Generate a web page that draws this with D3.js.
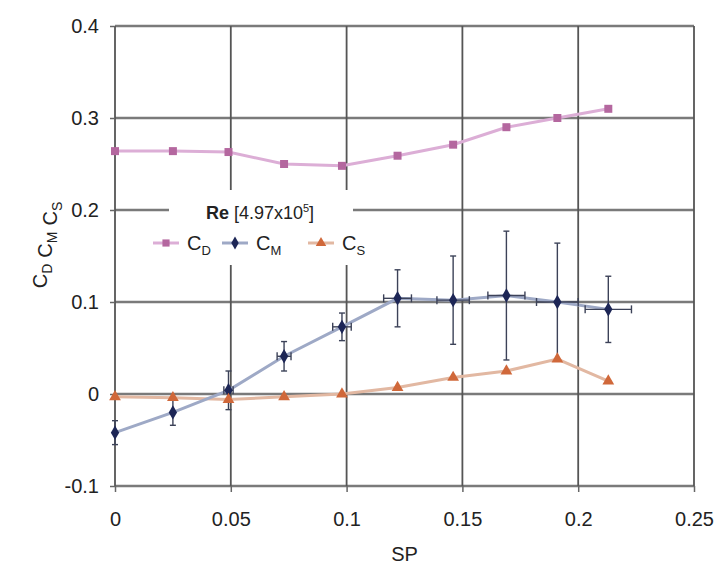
<!DOCTYPE html>
<html>
<head>
<meta charset="utf-8">
<script src="https://cdn.jsdelivr.net/npm/d3@7"></script>
<style>
  body { margin: 0; background: #fff; }
  svg { font-family: "Liberation Sans", Arial, sans-serif; }
</style>
</head>
<body>
<svg id="chart" width="721" height="568"></svg>
<script>
// values
const sp = [0, 0.025, 0.049, 0.073, 0.098, 0.122, 0.146, 0.169, 0.191, 0.213];
const cd = [0.264, 0.264, 0.263, 0.250, 0.248, 0.259, 0.271, 0.290, 0.300, 0.310];
const cm = [-0.042, -0.020, 0.004, 0.041, 0.073, 0.104, 0.102, 0.107, 0.100, 0.092];
const cm_err_y = [0.013, 0.014, 0.021, 0.016, 0.015, 0.031, 0.048, 0.070, 0.064, 0.036];
const cm_err_x = [0, 0, 0.002, 0.003, 0.004, 0.006, 0.007, 0.008, 0.009, 0.010];
const cs = [-0.003, -0.004, -0.006, -0.003, 0.000, 0.007, 0.018, 0.025, 0.038, 0.014];

const x_ticks = [0, 0.05, 0.1, 0.15, 0.2, 0.25];
const y_ticks = [-0.1, 0, 0.1, 0.2, 0.3, 0.4];

const svg = d3.select("#chart");
const margins = {top: 26, bottom: 82, left: 115, right: 27};
const width = 721, height = 568;

const x_scale = d3.scaleLinear()
    .domain([0, 0.25])
    .range([margins.left, width - margins.right]);

const y_scale = d3.scaleLinear()
    .domain([-0.1, 0.4])
    .range([height - margins.bottom, margins.top]);

const fmt = (d) => d === 0 ? "0" : String(+d.toFixed(2));

// grid
const grid = svg.append("g");
grid.selectAll(".hgrid")
    .data(y_ticks)
    .enter()
    .append("line")
    .attr("class", "hgrid")
    .attr("x1", x_scale(0))
    .attr("x2", x_scale(0.25))
    .attr("y1", (d) => y_scale(d))
    .attr("y2", (d) => y_scale(d))
    .style("stroke", "#7a7a7a")
    .style("stroke-width", 2.6);

grid.selectAll(".vgrid")
    .data(x_ticks)
    .enter()
    .append("line")
    .attr("class", "vgrid")
    .attr("x1", (d) => x_scale(d))
    .attr("x2", (d) => x_scale(d))
    .attr("y1", y_scale(0.4))
    .attr("y2", y_scale(-0.1))
    .style("stroke", "#555")
    .style("stroke-width", 1.8);

// axes
const x_axis = svg.append("g")
    .attr("transform", `translate(0, ${y_scale(-0.1)})`)
    .call(d3.axisBottom(x_scale).tickValues(x_ticks).tickFormat(fmt).tickSize(6).tickPadding(20));

const y_axis = svg.append("g")
    .attr("transform", `translate(${x_scale(0)}, 0)`)
    .call(d3.axisLeft(y_scale).tickValues(y_ticks).tickFormat(fmt).tickSize(5).tickPadding(11));

[x_axis, y_axis].forEach((ax) => {
  ax.select(".domain").remove();
  ax.selectAll(".tick line").style("stroke", "#666").style("stroke-width", 1.5);
  ax.selectAll(".tick text")
    .style("font-size", "20px")
    .style("fill", "#222");
});

svg.append("text")
    .attr("x", x_scale(0.125))
    .attr("y", 561)
    .attr("text-anchor", "middle")
    .style("font-size", "20px")
    .style("fill", "#222")
    .text("SP");

const y_label = svg.append("text")
    .attr("text-anchor", "middle")
    .attr("transform", `translate(47, 245)rotate(-90)`)
    .style("font-size", "20px")
    .style("fill", "#222");
[["C", "D"], ["C", "M"], ["C", "S"]].forEach((p, i) => {
  y_label.append("tspan").attr("dx", i ? 6 : 0).text(p[0]);
  y_label.append("tspan").attr("dy", 5).style("font-size", "14px").text(p[1]);
  y_label.append("tspan").attr("dy", -5).text("");
});

// series lines
const series = [
  {name: "D", values: cd, line: "#dcaed6", mark: "#b4679f", symbol: d3.symbolSquare, size: 64},
  {name: "M", values: cm, line: "#9ea9c6", mark: "#1d2656", symbol: d3.symbolDiamond, size: 60},
  {name: "S", values: cs, line: "#e2b8a2", mark: "#d0683a", symbol: d3.symbolTriangle, size: 60}
];

const line = d3.line()
    .x((d) => x_scale(d[0]))
    .y((d) => y_scale(d[1]));

const line_layer = svg.append("g");
line_layer.selectAll(".line")
    .data([series[2], series[1], series[0]])
    .enter()
    .append("path")
    .attr("class", "line")
    .attr("d", (s) => line(sp.map((x, i) => [x, s.values[i]])))
    .style("fill", "none")
    .style("stroke", (s) => s.line)
    .style("stroke-width", 3);

// error bars on C_M
const err_layer = svg.append("g")
    .style("stroke", "#3c4258")
    .style("stroke-width", 1.4);
sp.forEach((x, i) => {
  const cx = x_scale(x), cy = y_scale(cm[i]);
  const y1 = y_scale(cm[i] + cm_err_y[i]), y2 = y_scale(cm[i] - cm_err_y[i]);
  err_layer.append("line").attr("x1", cx).attr("x2", cx).attr("y1", y1).attr("y2", y2);
  err_layer.append("line").attr("x1", cx - 3).attr("x2", cx + 3).attr("y1", y1).attr("y2", y1);
  err_layer.append("line").attr("x1", cx - 3).attr("x2", cx + 3).attr("y1", y2).attr("y2", y2);
  if (cm_err_x[i] > 0) {
    const x1 = x_scale(x - cm_err_x[i]), x2 = x_scale(x + cm_err_x[i]);
    err_layer.append("line").attr("x1", x1).attr("x2", x2).attr("y1", cy).attr("y2", cy);
    err_layer.append("line").attr("x1", x1).attr("x2", x1).attr("y1", cy - 4).attr("y2", cy + 4);
    err_layer.append("line").attr("x1", x2).attr("x2", x2).attr("y1", cy - 4).attr("y2", cy + 4);
  }
});

// markers
const dot_layer = svg.append("g");
series.forEach((s) => {
  dot_layer.selectAll(".mark-" + s.name)
      .data(sp.map((x, i) => [x, s.values[i]]))
      .enter()
      .append("path")
      .attr("class", "mark-" + s.name)
      .attr("transform", (d) => `translate(${x_scale(d[0])}, ${y_scale(d[1])})`)
      .attr("d", d3.symbol().type(s.symbol).size(s.size))
      .style("fill", s.mark);
});

// legend
const legend = svg.append("g");
legend.append("rect")
    .attr("x", 169).attr("y", 190).attr("width", 184).attr("height", 38)
    .style("fill", "#fff");
legend.append("rect")
    .attr("x", 148).attr("y", 228).attr("width", 214).attr("height", 37)
    .style("fill", "#fff");

const title = legend.append("text")
    .attr("x", 260).attr("y", 219)
    .attr("text-anchor", "middle")
    .style("font-size", "18px")
    .style("fill", "#222");
title.append("tspan").style("font-weight", "bold").text("Re ");
title.append("tspan").text("[4.97x10");
title.append("tspan").attr("dy", -7).style("font-size", "11px").text("5");
title.append("tspan").attr("dy", 7).text("]");

const legend_x = [153, 222, 308];
series.forEach((s, i) => {
  const lx = legend_x[i], ly = 243;
  legend.append("line")
      .attr("x1", lx).attr("x2", lx + 26).attr("y1", ly).attr("y2", ly)
      .style("stroke", s.line).style("stroke-width", 3);
  legend.append("path")
      .attr("transform", `translate(${lx + 13}, ${ly})`)
      .attr("d", d3.symbol().type(s.symbol).size(s.size * 0.8))
      .style("fill", s.mark);
  const t = legend.append("text")
      .attr("x", lx + 34).attr("y", ly + 7)
      .style("font-size", "20px")
      .style("fill", "#222");
  t.append("tspan").text("C");
  t.append("tspan").attr("dy", 5).style("font-size", "13px").text(s.name);
});
</script>
</body>
</html>
